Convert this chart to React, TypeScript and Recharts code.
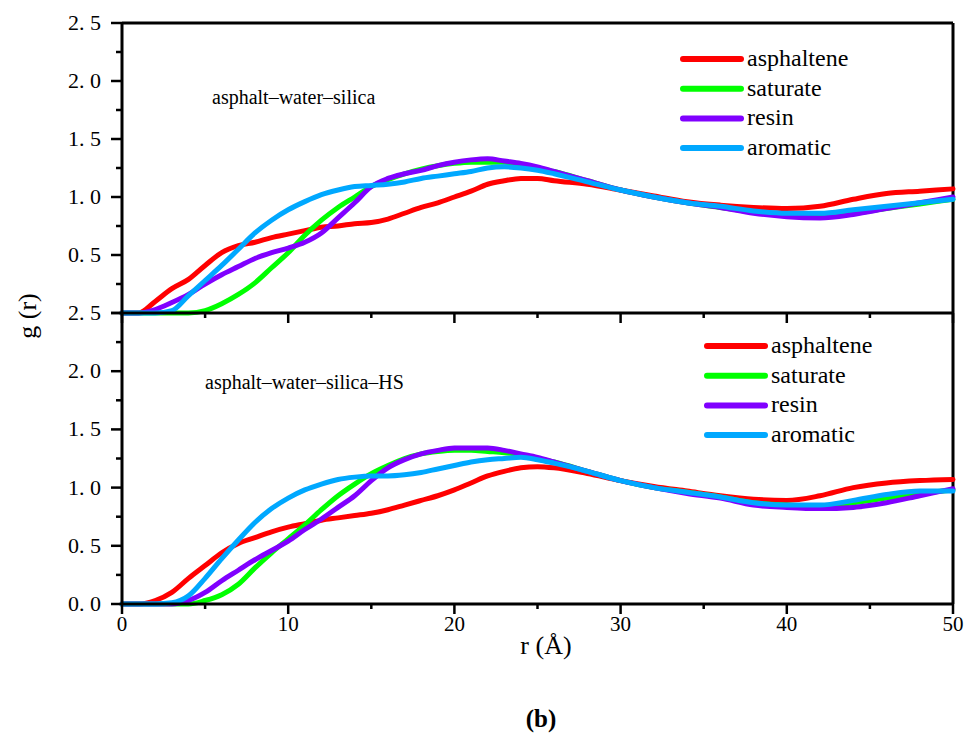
import { Line, LineChart, ReferenceLine, XAxis, YAxis } from "recharts"

const rValues = [
  0, 1, 2, 3, 4, 5, 6, 7, 8, 9, 10, 11, 12, 13, 14, 15, 16, 17, 18, 19, 20, 21, 22, 23, 24, 25, 26,
  28, 30, 32, 34, 36, 38, 40, 42, 44, 46, 48, 50,
]

const seriesNames = ["asphaltene", "saturate", "resin", "aromatic"]
const seriesColors = ["#ff0000", "#00ff00", "#8000ff", "#00a8ff"]

const xTicks = [0, 5, 10, 15, 20, 25, 30, 35, 40, 45, 50]
const yTicks = [0, 0.25, 0.5, 0.75, 1, 1.25, 1.5, 1.75, 2, 2.25, 2.5]

// asphalt-water-silica
const topAsphaltene = [
  0, 0, 0.1, 0.21, 0.29, 0.41, 0.52, 0.58, 0.61, 0.65, 0.68, 0.71, 0.74, 0.75, 0.77, 0.78, 0.81,
  0.86, 0.91, 0.95, 1.0, 1.05, 1.11, 1.14, 1.16, 1.16, 1.14, 1.11, 1.06, 1.01, 0.96, 0.93, 0.91,
  0.9, 0.92, 0.98, 1.03, 1.05, 1.07,
]
const topSaturate = [
  0, 0, 0, 0, 0, 0.02, 0.08, 0.16, 0.26, 0.39, 0.52, 0.67, 0.8, 0.91, 1.0, 1.09, 1.15, 1.2, 1.24,
  1.27, 1.29, 1.3, 1.3, 1.3, 1.28, 1.25, 1.22, 1.14, 1.06, 1.0, 0.95, 0.91, 0.87, 0.85, 0.84, 0.86,
  0.9, 0.94, 0.98,
]
const topResin = [
  0, 0, 0.03, 0.09, 0.16, 0.25, 0.33, 0.4, 0.47, 0.52, 0.56, 0.61, 0.69, 0.82, 0.95, 1.09, 1.16,
  1.2, 1.23, 1.27, 1.3, 1.32, 1.33, 1.31, 1.29, 1.26, 1.22, 1.14, 1.06, 1.0, 0.95, 0.91, 0.86, 0.83,
  0.82, 0.85, 0.9, 0.95, 1.0,
]
const topAromatic = [
  0, 0, 0, 0.02, 0.15, 0.28, 0.41, 0.55, 0.69, 0.8, 0.89, 0.96, 1.02, 1.06, 1.09, 1.1, 1.11, 1.13,
  1.16, 1.18, 1.2, 1.22, 1.25, 1.26, 1.25, 1.23, 1.2, 1.13, 1.06, 1.0, 0.95, 0.92, 0.88, 0.86, 0.86,
  0.89, 0.92, 0.95, 0.98,
]

// asphalt-water-silica-HS
const hsAsphaltene = [
  0, 0, 0.03, 0.1, 0.22, 0.33, 0.44, 0.52, 0.57, 0.62, 0.66, 0.69, 0.72, 0.74, 0.76, 0.78, 0.81,
  0.85, 0.89, 0.93, 0.98, 1.04, 1.1, 1.14, 1.17, 1.18, 1.17, 1.12, 1.06, 1.01, 0.97, 0.93, 0.9,
  0.89, 0.93, 1.0, 1.04, 1.06, 1.07,
]
const hsSaturate = [
  0, 0, 0, 0, 0, 0.03, 0.08, 0.17, 0.31, 0.44, 0.56, 0.68, 0.81, 0.93, 1.03, 1.12, 1.19, 1.25,
  1.29, 1.31, 1.32, 1.32, 1.31, 1.3, 1.28, 1.25, 1.22, 1.14, 1.06, 1.0, 0.96, 0.92, 0.87, 0.85,
  0.84, 0.87, 0.91, 0.95, 0.98,
]
const hsResin = [
  0, 0, 0, 0, 0.03, 0.1, 0.2, 0.29, 0.38, 0.46, 0.54, 0.64, 0.73, 0.83, 0.93, 1.06, 1.17, 1.24,
  1.29, 1.32, 1.34, 1.34, 1.34, 1.32, 1.29, 1.26, 1.22, 1.14, 1.06, 1.0, 0.95, 0.91, 0.85, 0.83,
  0.82, 0.83, 0.87, 0.93, 0.99,
]
const hsAromatic = [
  0, 0, 0, 0.01, 0.07, 0.22, 0.39, 0.55, 0.7, 0.82, 0.91, 0.98, 1.03, 1.07, 1.09, 1.1, 1.1, 1.11,
  1.13, 1.16, 1.19, 1.22, 1.24, 1.25, 1.26, 1.24, 1.21, 1.14, 1.06, 1.0, 0.96, 0.92, 0.87, 0.85,
  0.85, 0.89, 0.94, 0.97, 0.97,
]

const buildRows = (series: number[][]) =>
  rValues.map((r, i) => {
    const row: Record<string, number> = { r }
    seriesNames.forEach((name, k) => {
      row[name] = series[k][i]
    })
    return row
  })

const topData = buildRows([topAsphaltene, topSaturate, topResin, topAromatic])
const hsData = buildRows([hsAsphaltene, hsSaturate, hsResin, hsAromatic])

const FONT = "'Liberation Serif', 'Times New Roman', serif"

const YTick = ({ x, y, payload, skipZero }: any) => {
  const v = payload.value as number
  const major = Math.abs(v * 2 - Math.round(v * 2)) < 1e-6
  const showLabel = major && !(skipZero && v === 0)
  return (
    <g>
      <line x1={x} x2={x - (major ? 11 : 6)} y1={y} y2={y} stroke="#000" strokeWidth={2.5} />
      {showLabel && (
        <text x={x - 21} y={y + 7} textAnchor="end" fontSize={22} fontFamily={FONT} fill="#000">
          {v.toFixed(1).replace(".", ". ")}
        </text>
      )}
    </g>
  )
}

const XTick = ({ x, y, payload, showLabels }: any) => {
  const v = payload.value as number
  const major = v % 10 === 0
  return (
    <g>
      <line x1={x} x2={x} y1={y} y2={y + (major ? 10 : 5)} stroke="#000" strokeWidth={2.5} />
      {showLabels && major && (
        <text x={x} y={y + 27} textAnchor="middle" fontSize={21} fontFamily={FONT} fill="#000">
          {v}
        </text>
      )}
    </g>
  )
}

const Panel = ({
  data,
  height,
  xAxisHeight,
  showXLabels,
  topBorder,
  skipZero,
}: {
  data: Record<string, number>[]
  height: number
  xAxisHeight: number
  showXLabels: boolean
  topBorder: boolean
  skipZero: boolean
}) => (
  <LineChart width={966} height={height} data={data} margin={{ top: 23, right: 13, left: 0, bottom: 0 }}>
    <XAxis
      dataKey="r"
      type="number"
      domain={[0, 50]}
      ticks={xTicks}
      interval={0}
      height={xAxisHeight}
      tickSize={0}
      tickMargin={0}
      axisLine={{ stroke: "#000", strokeWidth: 3 }}
      tick={<XTick showLabels={showXLabels} />}
    />
    <YAxis
      type="number"
      domain={[0, 2.5]}
      ticks={yTicks}
      interval={0}
      width={122}
      tickSize={0}
      tickMargin={0}
      axisLine={{ stroke: "#000", strokeWidth: 3 }}
      tick={<YTick skipZero={skipZero} />}
    />
    {topBorder && <ReferenceLine y={2.5} stroke="#000" strokeWidth={3} />}
    <ReferenceLine x={50} stroke="#000" strokeWidth={3} />
    {seriesNames.map((name, k) => (
      <Line
        key={name}
        dataKey={name}
        type="monotone"
        stroke={seriesColors[k]}
        strokeWidth={5}
        strokeLinecap="round"
        dot={false}
        isAnimationActive={false}
      />
    ))}
  </LineChart>
)

const LegendBlock = ({ x, y }: { x: number; y: number }) => (
  <g>
    {seriesNames.map((name, k) => (
      <g key={name}>
        <line
          x1={x}
          x2={x + 58}
          y1={y + k * 29.7}
          y2={y + k * 29.7}
          stroke={seriesColors[k]}
          strokeWidth={6}
          strokeLinecap="round"
        />
        <text x={x + 64} y={y + k * 29.7 + 7} fontSize={24} fontFamily={FONT} fill="#000">
          {name}
        </text>
      </g>
    ))}
  </g>
)

export default function App() {
  return (
    <div style={{ position: "absolute", left: 0, top: 0, width: 966, height: 738, background: "#fff" }}>
      <div style={{ position: "absolute", left: 0, top: 0 }}>
        <Panel data={topData} height={330} xAxisHeight={17} showXLabels={false} topBorder skipZero />
      </div>
      <div style={{ position: "absolute", left: 0, top: 290 }}>
        <Panel data={hsData} height={354} xAxisHeight={40} showXLabels topBorder={false} skipZero={false} />
      </div>
      <svg
        width={966}
        height={738}
        style={{ position: "absolute", left: 0, top: 0, pointerEvents: "none" }}
      >
        <LegendBlock x={683} y={59} />
        <LegendBlock x={707} y={346} />
        <text x={212} y={104} fontSize={20} fontFamily={FONT} fill="#000">
          asphalt–water–silica
        </text>
        <text x={205} y={389} fontSize={20} fontFamily={FONT} fill="#000">
          asphalt–water–silica–HS
        </text>
        <text
          x={0}
          y={0}
          transform="translate(36 316) rotate(-90)"
          textAnchor="middle"
          fontSize={26}
          fontFamily={FONT}
          fill="#000"
        >
          g (r)
        </text>
        <text x={546} y={654} textAnchor="middle" fontSize={26} fontFamily={FONT} fill="#000">
          r (Å)
        </text>
        <text x={541} y={727} textAnchor="middle" fontSize={25} fontWeight="bold" fontFamily={FONT} fill="#000">
          (b)
        </text>
      </svg>
    </div>
  )
}
